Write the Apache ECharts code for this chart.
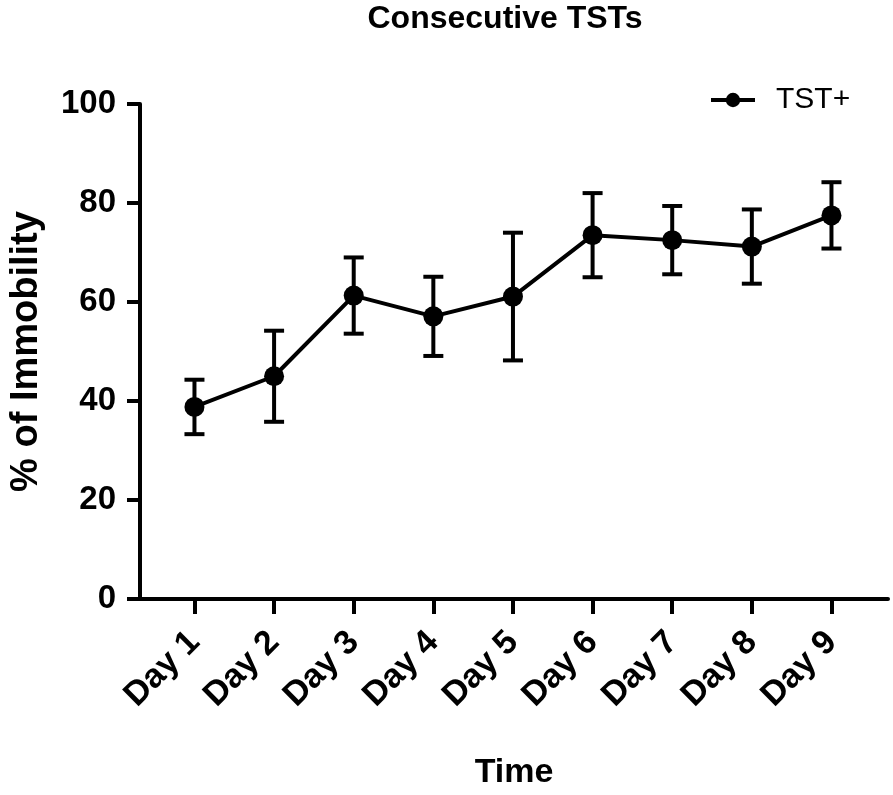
<!DOCTYPE html>
<html>
<head>
<meta charset="utf-8">
<script src="https://cdn.jsdelivr.net/npm/echarts@6/dist/echarts.min.js"></script>
<style>
  html, body { margin: 0; padding: 0; background: #fff; }
  #chart { width: 893px; height: 795px; }
</style>
</head>
<body>
<div id="chart"></div>
<script>
// ---- data ----
const categories = ['Day 1', 'Day 2', 'Day 3', 'Day 4', 'Day 5', 'Day 6', 'Day 7', 'Day 8', 'Day 9'];
const dayNumbers = [1, 2, 3, 4, 5, 6, 7, 8, 9];
const meanValues = [38.8, 45.0, 61.3, 57.1, 61.1, 73.5, 72.5, 71.2, 77.5];
const errorValues = [5.5, 9.2, 7.7, 8.0, 12.9, 8.5, 6.9, 7.5, 6.7];
const yTicks = [0, 20, 40, 60, 80, 100];
const seriesName = 'TST+';

const FONT = 'Arial, "Liberation Sans", Helvetica, sans-serif';

const linePoints = dayNumbers.map((d, i) => [d, meanValues[i]]);
const errPoints = dayNumbers.map((d, i) => [d, meanValues[i] - errorValues[i], meanValues[i] + errorValues[i]]);

const chart = echarts.init(document.getElementById('chart'), null, { renderer: 'canvas' });

chart.setOption({
  backgroundColor: '#ffffff',
  animation: false,
  title: {
    text: 'Consecutive TSTs',
    left: 505,
    textAlign: 'center',
    top: 3,
    padding: 0,
    textStyle: { fontFamily: FONT, fontWeight: 'bold', fontSize: 32, color: '#000' }
  },
  legend: {
    data: [seriesName],
    left: 709,
    top: 85,
    padding: 0,
    itemWidth: 44,
    itemHeight: 18,
    lineStyle: { width: 4, color: '#000' },
    textStyle: { fontFamily: FONT, fontSize: 30, color: '#000', padding: [0, 0, 0, 16] }
  },
  grid: { left: 133, right: 5, top: 104, bottom: 190, containLabel: false },
  xAxis: {
    type: 'value',
    min: 0.316,
    max: 9.71,
    name: 'Time',
    nameLocation: 'middle',
    nameGap: 157,
    nameTextStyle: { fontFamily: FONT, fontWeight: 'bold', fontSize: 34, color: '#000' },
    axisLine: { show: true, onZero: false, lineStyle: { color: '#000', width: 4 } },
    axisTick: { show: true, customValues: dayNumbers, length: 15, inside: false, lineStyle: { color: '#000', width: 4 } },
    axisLabel: {
      show: true,
      customValues: dayNumbers,
      rotate: 45,
      margin: 38,
      fontFamily: FONT,
      fontWeight: 'bold',
      fontSize: 34,
      color: '#000',
      formatter: function (v) { return categories[Math.round(v) - 1] || ''; }
    },
    splitLine: { show: false }
  },
  yAxis: {
    type: 'value',
    min: 0,
    max: 100,
    interval: 20,
    name: '% of Immobility',
    nameLocation: 'middle',
    nameRotate: 90,
    nameGap: 94,
    nameTextStyle: { fontFamily: FONT, fontWeight: 'bold', fontSize: 38, color: '#000' },
    axisLine: { show: true, lineStyle: { color: '#000', width: 4 } },
    axisTick: { show: true, length: 13, inside: false, lineStyle: { color: '#000', width: 4 } },
    axisLabel: {
      margin: 24,
      fontFamily: FONT,
      fontWeight: 'bold',
      fontSize: 33,
      color: '#000',
      formatter: function (v) { return yTicks.indexOf(v) >= 0 ? String(v) : ''; }
    },
    splitLine: { show: false }
  },
  series: [
    {
      name: 'error',
      type: 'custom',
      data: errPoints,
      z: 1,
      silent: true,
      renderItem: function (params, api) {
        const x = api.value(0);
        const lo = api.coord([x, api.value(1)]);
        const hi = api.coord([x, api.value(2)]);
        const half = 10;
        const style = { stroke: '#000', lineWidth: 4, fill: null };
        return {
          type: 'group',
          children: [
            { type: 'line', shape: { x1: lo[0], y1: lo[1], x2: hi[0], y2: hi[1] }, style: style },
            { type: 'line', shape: { x1: hi[0] - half, y1: hi[1], x2: hi[0] + half, y2: hi[1] }, style: style },
            { type: 'line', shape: { x1: lo[0] - half, y1: lo[1], x2: lo[0] + half, y2: lo[1] }, style: style }
          ]
        };
      }
    },
    {
      name: seriesName,
      type: 'line',
      data: linePoints,
      z: 2,
      symbol: 'circle',
      symbolSize: 20,
      itemStyle: { color: '#000' },
      lineStyle: { color: '#000', width: 4 }
    }
  ]
});
</script>
</body>
</html>
